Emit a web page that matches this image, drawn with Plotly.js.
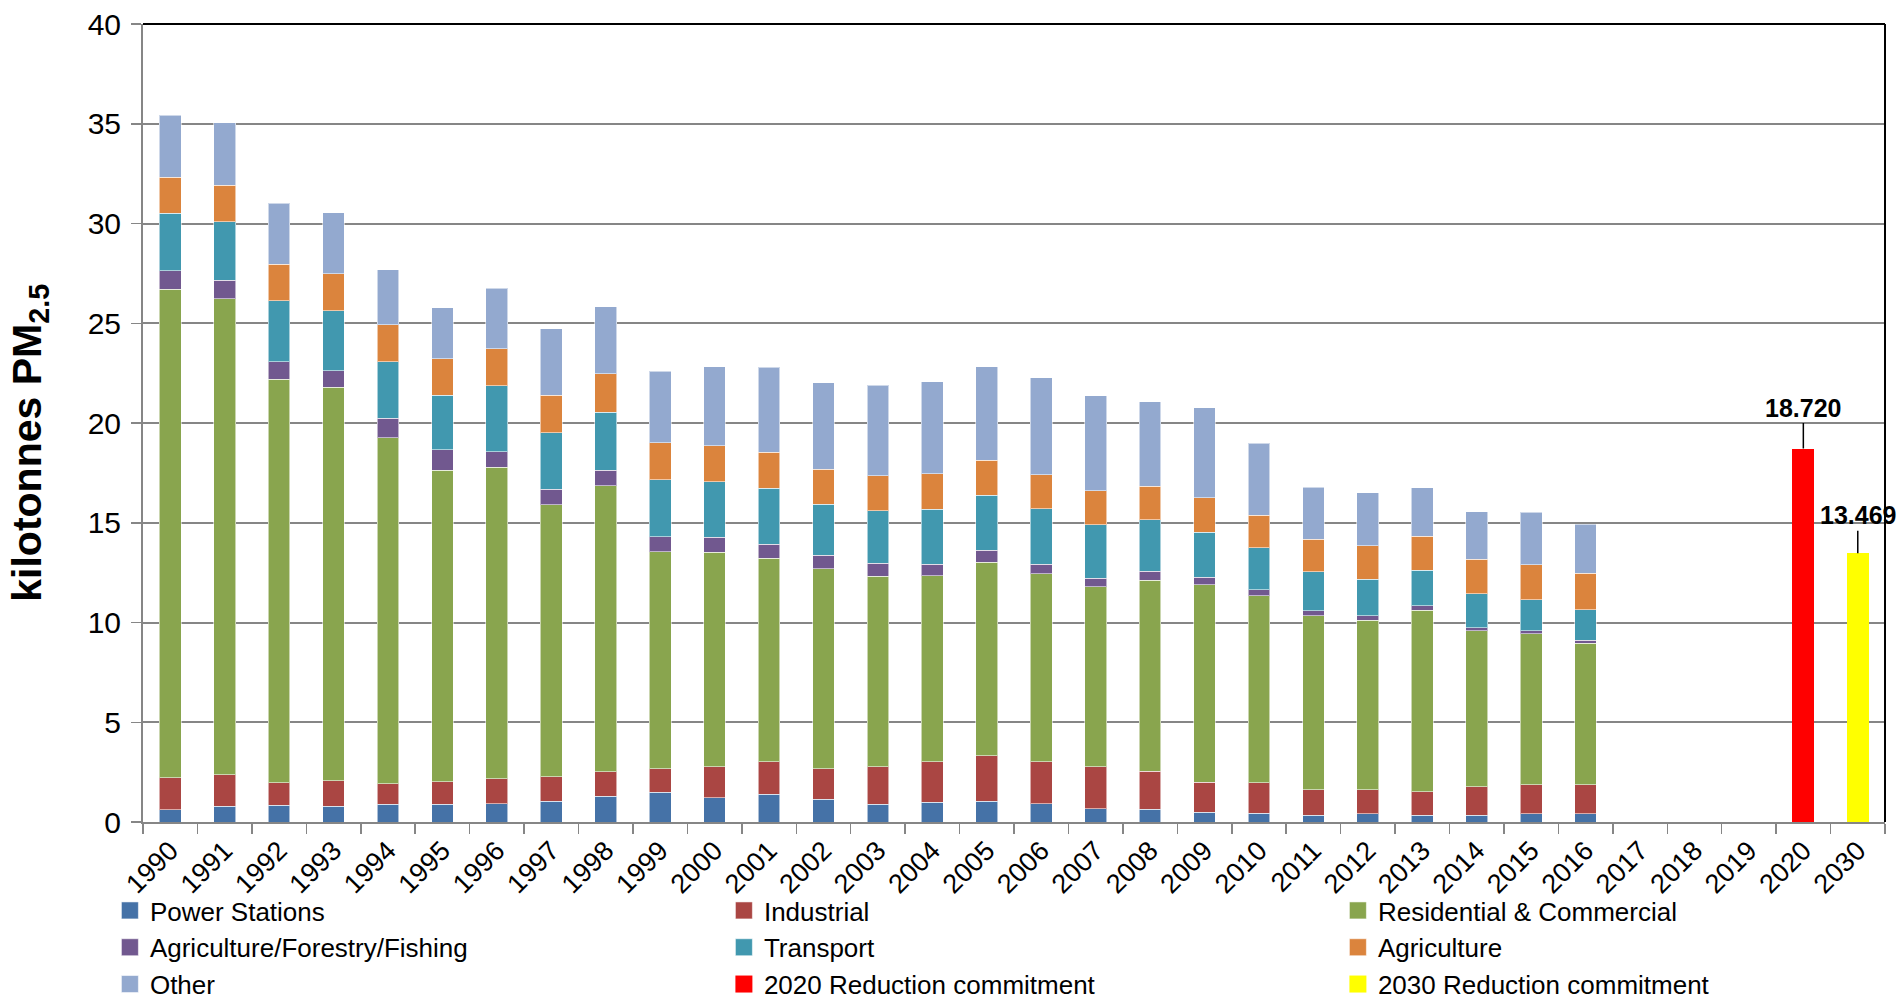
<!DOCTYPE html>
<html>
<head>
<meta charset="utf-8">
<script src="https://cdn.plot.ly/plotly-3.0.1.min.js"></script>
<style>
  html, body { margin: 0; padding: 0; background: #ffffff; }
  #chart { width: 1903px; height: 1002px; }
</style>
</head>
<body>
<div id="chart"></div>
<script>
// Inventory years plus the target years shown on the right of the axis
const years = ['1990','1991','1992','1993','1994','1995','1996','1997','1998','1999',
               '2000','2001','2002','2003','2004','2005','2006','2007','2008','2009',
               '2010','2011','2012','2013','2014','2015','2016'];
const targetYears = ['2017','2018','2019','2020','2030'];

// PM2.5 emissions by source sector (kilotonnes)
const powerStations = [0.62,0.79,0.84,0.80,0.89,0.89,0.92,1.05,1.29,1.49,1.22,1.40,1.15,0.88,0.99,1.04,0.92,0.67,0.64,0.48,0.43,0.35,0.42,0.35,0.35,0.42,0.42];
const industrial    = [1.59,1.58,1.13,1.27,1.03,1.12,1.25,1.22,1.22,1.19,1.56,1.63,1.53,1.90,2.04,2.27,2.11,2.09,1.90,1.51,1.53,1.26,1.19,1.17,1.42,1.45,1.45];
const residential   = [24.49,23.87,20.22,19.71,17.35,15.61,15.60,13.62,14.34,10.87,10.73,10.18,10.02,9.53,9.32,9.72,9.42,9.03,9.57,9.90,9.38,8.72,8.51,9.10,7.81,7.56,7.08];
const agriForestryFishing = [0.92,0.91,0.87,0.83,0.96,1.04,0.80,0.78,0.77,0.75,0.77,0.72,0.68,0.67,0.58,0.58,0.48,0.44,0.47,0.39,0.30,0.27,0.23,0.21,0.15,0.15,0.15];
const transport     = [2.89,2.94,3.06,3.01,2.83,2.72,3.29,2.85,2.92,2.85,2.77,2.81,2.55,2.62,2.75,2.78,2.77,2.67,2.57,2.25,2.11,1.94,1.82,1.80,1.71,1.56,1.55];
const agriculture   = [1.82,1.84,1.85,1.85,1.86,1.83,1.85,1.87,1.92,1.86,1.81,1.80,1.76,1.75,1.77,1.75,1.70,1.70,1.69,1.72,1.62,1.64,1.68,1.70,1.72,1.75,1.82];
const other         = [3.09,3.12,3.04,3.06,2.77,2.57,3.04,3.34,3.37,3.59,3.95,4.26,4.32,4.53,4.61,4.67,4.86,4.76,4.22,4.52,3.61,2.61,2.66,2.43,2.39,2.63,2.45];

// Reduction commitments
const commitment2020 = 18.720;
const commitment2030 = 13.469;

const sectorNames = ['Power Stations','Industrial','Residential & Commercial',
                     'Agriculture/Forestry/Fishing','Transport','Agriculture','Other'];
const sectorValues = [powerStations, industrial, residential, agriForestryFishing,
                      transport, agriculture, other];
const sectorColors = ['#4572A7','#AA4643','#89A54E','#71588F','#4198AF','#DB843D','#93A9CF'];

const allCategories = years.concat(targetYears);
const FONT = '"Liberation Sans", Arial, sans-serif';

const traces = sectorNames.map((name, i) => ({
  type: 'bar',
  name: name,
  x: years,
  y: sectorValues[i],
  marker: { color: sectorColors[i], line: { color: 'rgba(255,255,255,0.55)', width: 1 } },
  hoverinfo: 'x+y+name'
}));

traces.push({
  type: 'bar', name: '2020 Reduction commitment',
  x: ['2020'], y: [commitment2020],
  marker: { color: '#FF0000', line: { width: 0 } }
});
traces.push({
  type: 'bar', name: '2030 Reduction commitment',
  x: ['2030'], y: [commitment2030],
  marker: { color: '#FFFF00', line: { width: 0 } }
});

// category positions (indices) of the two commitment bars, used by the value labels
const idx2020 = allCategories.indexOf('2020');
const idx2030 = allCategories.indexOf('2030');

const valueFont = { family: FONT, size: 25, color: '#000000' };

const layout = {
  width: 1903,
  height: 1002,
  paper_bgcolor: '#ffffff',
  plot_bgcolor: '#ffffff',
  barmode: 'stack',
  bargap: 0.6,
  margin: { l: 143, r: 18, t: 24, b: 180, autoexpand: false },
  font: { family: FONT, color: '#000000' },
  showlegend: true,
  legend: {
    orientation: 'h',
    traceorder: 'normal',
    x: -0.019, xanchor: 'left',
    y: -0.0815, yanchor: 'top',
    entrywidthmode: 'pixels',
    entrywidth: 569,
    font: { family: FONT, size: 26, color: '#000000' },
    bgcolor: 'rgba(0,0,0,0)'
  },
  xaxis: {
    type: 'category',
    categoryorder: 'array',
    categoryarray: allCategories,
    tickvals: allCategories,
    range: [-0.5, allCategories.length - 0.5],
    tickangle: -45,
    tickfont: { family: FONT, size: 27, color: '#000000' },
    ticks: 'outside',
    tickson: 'boundaries',
    ticklen: 10,
    tickwidth: 1.5,
    tickcolor: '#868686',
    showline: true,
    linecolor: '#868686',
    linewidth: 2,
    showgrid: false,
    zeroline: false,
    fixedrange: true
  },
  yaxis: {
    range: [0, 40],
    dtick: 5,
    tick0: 0,
    tickfont: { family: FONT, size: 30, color: '#000000' },
    ticks: 'outside',
    ticklen: 10,
    tickwidth: 1.5,
    tickcolor: '#868686',
    ticklabelstandoff: 4,
    showline: true,
    linecolor: '#868686',
    linewidth: 2,
    showgrid: true,
    gridcolor: '#868686',
    gridwidth: 2,
    zeroline: false,
    fixedrange: true,
    automargin: false
  },
  shapes: [
    // frame on the top and right of the plotting area
    { type: 'line', xref: 'paper', yref: 'paper', x0: 0, x1: 1, y0: 1, y1: 1,
      line: { color: '#000000', width: 2 } },
    { type: 'line', xref: 'paper', yref: 'paper', x0: 1, x1: 1, y0: 0, y1: 1,
      line: { color: '#000000', width: 2 } }
  ],
  annotations: [
    // y-axis title
    { xref: 'paper', yref: 'paper', x: -0.065, y: 0.475,
      xanchor: 'center', yanchor: 'middle', textangle: -90, showarrow: false,
      text: '<b>kilotonnes PM<sub>2.5</sub></b>',
      font: { family: FONT, size: 41, color: '#000000' } },
    // commitment values
    { x: idx2020, y: commitment2020, xref: 'x', yref: 'y',
      text: '<b>' + commitment2020.toFixed(3) + '</b>', showarrow: true, arrowhead: 0,
      arrowwidth: 1.5, arrowcolor: '#000000', ax: 0, ay: -41, standoff: 0,
      font: valueFont },
    { x: idx2030, y: commitment2030, xref: 'x', yref: 'y',
      text: '<b>' + commitment2030.toFixed(3) + '</b>', showarrow: true, arrowhead: 0,
      arrowwidth: 1.5, arrowcolor: '#000000', ax: 0, ay: -38, standoff: 0,
      font: valueFont }
  ]
};

Plotly.newPlot('chart', traces, layout, { displayModeBar: false, staticPlot: true })
  .then(gd => {
    // slightly larger legend swatches
    gd.querySelectorAll('.legend .legendpoints path').forEach(p => {
      p.setAttribute('d', 'M8.5,8.5H-8.5V-8.5H8.5Z');
    });
  });
</script>
</body>
</html>
